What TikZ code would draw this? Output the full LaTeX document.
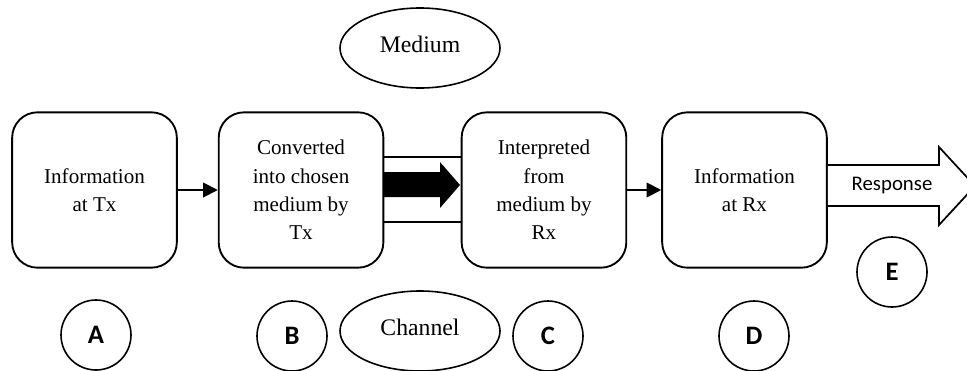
\documentclass[tikz,border=0pt]{standalone}
\usepackage{fontspec}
\setmainfont{Liberation Serif}
\newfontfamily\calibri{Carlito}
\usetikzlibrary{shapes.geometric, arrows.meta, positioning, calc}

\begin{document}
\begin{tikzpicture}[
    x=0.75pt, y=-0.75pt,
    node distance=1cm and 1cm,
    stage/.style={rectangle, draw, line width=1.4pt, rounded corners=19pt, align=center, minimum width=123.5pt, minimum height=116.5pt, inner sep=2pt, font=\fontsize{15.8}{21.3}\selectfont},
    tag/.style={circle, draw, line width=1.2pt, minimum size=52.5pt, inner sep=0pt, font=\calibri\bfseries\fontsize{20}{24}\selectfont},
    bubble/.style={ellipse, draw, line width=1.2pt, minimum width=120pt, minimum height=60pt, inner sep=0pt, text depth=6pt, font=\fontsize{17.8}{20}\selectfont},
    link/.style={draw, -{Triangle[length=11pt,width=11pt]}, line width=1.4pt},
    rail/.style={draw, line width=1.3pt},
    blockarrow/.style={draw, line width=1.3pt, line join=miter}
]
\useasboundingbox (0,0) rectangle (967,371);

% Stages
\node [stage] (A) at (94.5,190) {Information\\at Tx};
\node [stage, right=30pt of A] (B) {Converted\\into chosen\\medium by\\Tx};
\node [stage, right=57.3pt of B] (C) {Interpreted\\from\\medium by\\Rx};
\node [stage, right=25.5pt of C] (D) {Information\\at Rx};

% Medium and channel
\node [bubble] (med) at (420,48) {Medium};
\node [bubble] (chan) at (420,331) {Channel};

% Letters
\node [tag] (tA) at (96,335) {A};
\node [tag] (tB) at (292,336) {B};
\node [tag] (tC) at (548,336) {C};
\node [tag] (tD) at (754,336) {D};
\node [tag] (tE) at (892,272) {E};

% Connectors
\path [link] (A) -- (B);
\path [link] (C) -- (D);
\path [rail] ([yshift=24.75pt]B.east) -- ([yshift=24.75pt]C.west);
\path [rail] ([yshift=-24pt]B.east) -- ([yshift=-24pt]C.west);

% Block arrows
\fill (383,172) -- (440,172) -- (440,162) -- (460,185) -- (440,208) -- (440,197) -- (383,197) -- cycle;
\filldraw [blockarrow, fill=white] (D.east |- 0,165) -- (939,165) -- (939,147) -- (975,186) -- (939,225) -- (939,206) -- (D.east |- 0,206);
\node [font=\calibri\fontsize{15.6}{18}\selectfont] (resp) at (892,186) {Response};

\end{tikzpicture}
\end{document}
